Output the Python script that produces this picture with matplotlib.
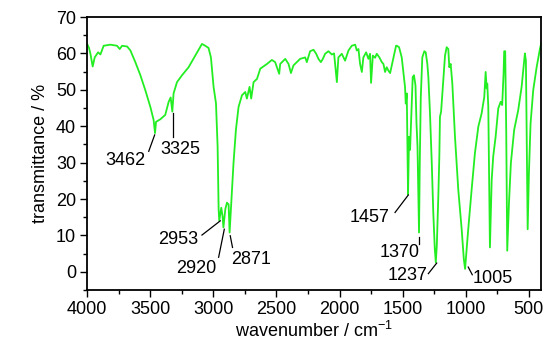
import matplotlib
matplotlib.use('Agg')
import matplotlib.pyplot as plt
from matplotlib.ticker import MultipleLocator

plt.rcParams['font.family'] = ['Liberation Sans', 'DejaVu Sans']
plt.rcParams['mathtext.fontset'] = 'custom'
plt.rcParams['mathtext.rm'] = 'Liberation Sans'
plt.rcParams['mathtext.it'] = 'Liberation Sans:italic'

FS = 13

# IR spectrum (wavenumber in cm-1, transmittance in %)
wavenumber = [4000, 3985, 3974, 3956, 3940, 3913, 3895, 3869, 3816, 3763, 3742, 3723,
              3683, 3657, 3618, 3578, 3539, 3499, 3473, 3462, 3454, 3420, 3381, 3354,
              3338, 3325, 3315, 3288, 3248, 3196, 3143, 3090, 3064, 3038, 3019, 2998,
              2979, 2966, 2958, 2953, 2937, 2927, 2920, 2905, 2892, 2879, 2871, 2858,
              2840, 2821, 2800, 2773, 2747, 2734, 2713, 2700, 2681, 2654, 2628, 2575,
              2536, 2510, 2478, 2470, 2430, 2404, 2385, 2365, 2312, 2272, 2259, 2233,
              2206, 2185, 2167, 2148, 2132, 2114, 2088, 2061, 2043, 2021, 2009, 1982,
              1956, 1929, 1903, 1876, 1863, 1850, 1837, 1823, 1811, 1789, 1771, 1758,
              1750, 1736, 1718, 1705, 1684, 1665, 1652, 1639, 1626, 1613, 1599, 1586,
              1573, 1552, 1546, 1528, 1507, 1494, 1481, 1475, 1467, 1462, 1457, 1449,
              1441, 1435, 1420, 1410, 1398, 1390, 1382, 1370, 1364, 1356, 1344, 1328,
              1317, 1304, 1296, 1283, 1269, 1257, 1245, 1237, 1229, 1217, 1209, 1204,
              1195, 1178, 1164, 1151, 1138, 1130, 1119, 1106, 1085, 1059, 1032, 1015,
              1005, 980, 953, 927, 900, 874, 853, 842, 834, 829, 821, 816, 808, 794,
              782, 763, 742, 723, 711, 700, 695, 687, 679, 671, 657, 642, 616, 584,
              557, 539, 531, 523, 515, 509, 499, 486, 465, 438, 412, 400]
transmittance = [62.6, 61.5, 59.9, 56.4, 58.9, 60.3, 59.7, 62.1, 62.4, 62.1, 61.2, 62.1,
                 61.9, 60.8, 57.6, 54.0, 49.9, 45.3, 41.7, 38.1, 41.2, 41.9, 43.1, 46.7,
                 47.9, 44.0, 49.0, 52.1, 54.0, 56.2, 59.4, 62.6, 62.1, 61.5, 58.9, 50.8,
                 46.3, 34.4, 17.2, 14.0, 17.6, 15.3, 12.2, 17.2, 19.0, 18.5, 10.8, 19.0,
                 29.9, 39.0, 45.3, 48.5, 49.4, 47.6, 50.8, 47.6, 52.1, 53.0, 55.8, 57.1,
                 58.2, 57.6, 54.4, 57.1, 58.5, 57.1, 54.6, 56.7, 58.5, 58.9, 57.6, 60.6,
                 61.0, 59.9, 58.5, 57.6, 58.5, 59.9, 60.6, 59.7, 60.0, 52.1, 58.9, 59.9,
                 58.0, 60.8, 62.1, 62.4, 60.8, 61.2, 57.1, 54.9, 58.9, 60.3, 58.5, 59.9,
                 51.9, 59.4, 58.8, 59.9, 58.9, 57.6, 57.1, 54.9, 56.2, 55.3, 54.6, 56.7,
                 58.9, 62.1, 62.1, 61.7, 58.9, 54.9, 50.8, 46.2, 49.0, 35.0, 21.3, 37.1,
                 33.5, 39.0, 53.5, 54.0, 51.2, 40.8, 34.4, 10.8, 29.9, 48.0, 58.9, 60.6,
                 60.3, 57.1, 53.5, 43.5, 29.9, 16.3, 6.3, 2.6, 7.2, 20.8, 31.7, 42.6,
                 44.0, 52.6, 59.4, 61.7, 61.2, 56.2, 57.1, 51.7, 37.1, 22.6, 11.7, 3.5,
                 0.8, 11.7, 22.6, 32.6, 39.9, 43.5, 48.0, 54.9, 50.4, 51.7, 45.3, 29.9,
                 6.7, 25.3, 31.7, 37.1, 44.9, 46.7, 45.8, 54.4, 60.6, 60.6, 39.0, 5.8,
                 19.0, 29.9, 39.0, 44.4, 50.8, 57.1, 60.0, 58.0, 29.9, 11.7, 27.2, 40.8,
                 49.9, 56.2, 61.2, 63.0]

# peak labels
peak_labels = ['3462', '3325', '2953', '2920', '2871', '1457', '1370', '1237', '1005']

# leader line (x0, y0, x1, y1) and text anchor (x, y, ha) for each label
leaders = [(3465, 37.6, 3512, 33.1), (3322, 43.5, 3322, 37.1),
           (2945, 14.0, 3090, 10.1), (2913, 11.7, 2958, 4.0),
           (2866, 9.9, 2848, 6.7), (1455, 21.1, 1560, 16.3),
           (1370, 9.7, 1370, 7.6), (1230, 2.4, 1296, -0.5),
           (980, 1.3, 948, -0.8)]
text_pos = [(3538, 30.5, 'right'), (3262, 33.5, 'center'),
            (3117, 9.0, 'right'), (3132, 0.8, 'center'),
            (2700, 3.5, 'center'), (1758, 14.9, 'center'),
            (1523, 5.4, 'center'), (1461, -1.0, 'center'),
            (788, -1.9, 'center')]

fig = plt.figure(figsize=(5.48, 3.40), dpi=100)
ax = fig.add_axes([0.159, 0.147, 0.829, 0.803])

ax.plot(wavenumber, transmittance, color='#22ee22', linewidth=1.3)

for lab, (x0, y0, x1, y1), (tx, ty, ha) in zip(peak_labels, leaders, text_pos):
    ax.plot([x0, x1], [y0, y1], color='black', linewidth=0.9)
    ax.text(tx, ty, lab, ha=ha, va='center', fontsize=FS)

ax.set_xlim(4000, 400)
ax.set_ylim(-5, 70)
ax.xaxis.set_major_locator(MultipleLocator(500))
ax.xaxis.set_minor_locator(MultipleLocator(250))
ax.yaxis.set_major_locator(MultipleLocator(10))
ax.yaxis.set_minor_locator(MultipleLocator(5))
ax.tick_params(which='both', direction='out', top=False, right=False,
               labelsize=FS, width=1.0)
ax.tick_params(which='major', length=5, pad=3)
ax.tick_params(which='minor', length=3)
for s in ax.spines.values():
    s.set_linewidth(1.3)

ax.set_xlabel(r'wavenumber / cm$^{-1}$', fontsize=FS, labelpad=2)
ax.set_ylabel('transmittance / %', fontsize=FS, labelpad=5)

plt.savefig('out.png', dpi=100)
plt.close()
